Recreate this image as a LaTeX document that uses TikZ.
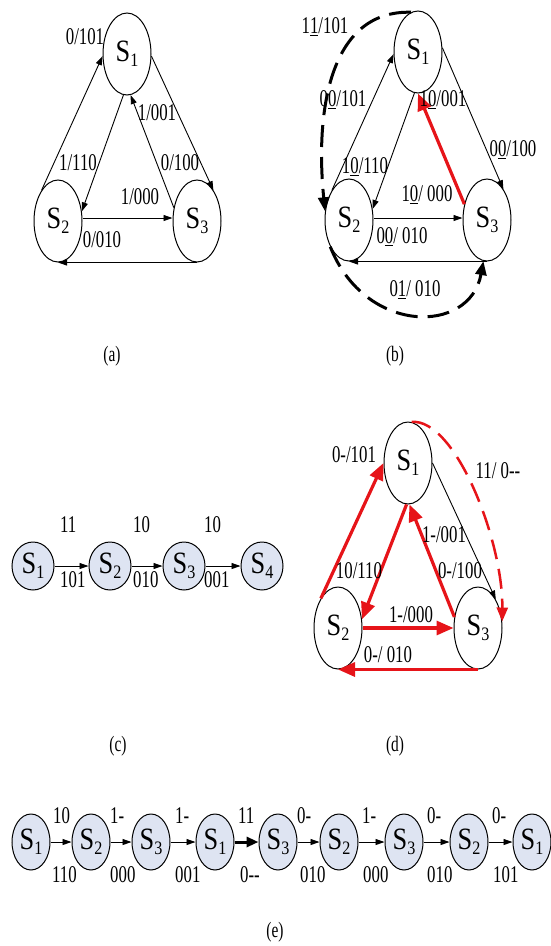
\documentclass[tikz,border=0pt]{standalone}
\usepackage{fontspec}
\setmainfont{Liberation Serif}[FakeStretch=0.7]
\newfontfamily\sfam{Liberation Serif}[FakeStretch=0.85]
\usetikzlibrary{shapes.geometric,arrows.meta}
\definecolor{myred}{RGB}{230,20,25}
\definecolor{cfill}{RGB}{222,228,242}
\newcommand{\Sx}[1]{{\sfam\fontsize{31}{31}\selectfont S\raisebox{-5pt}{\fontsize{19}{19}\selectfont #1}}}
\tikzset{
  st/.style={ellipse, draw, line width=1pt, inner sep=0pt, minimum width=48pt, minimum height=82pt},
  stc/.style={ellipse, draw, fill=cfill, line width=1pt, inner sep=0pt, minimum width=42pt, minimum height=48pt},
  ste/.style={ellipse, draw, fill=cfill, line width=1pt, inner sep=0pt, minimum width=38pt, minimum height=56pt},
  lbl/.style={font=\fontsize{24}{24}\selectfont, inner sep=0pt},
  capt/.style={font=\fontsize{22}{22}\selectfont, inner sep=0pt},
  arr/.style={-{Triangle[length=9pt,width=6pt]}, line width=0.9pt},
  tarr/.style={-{Triangle[length=12pt,width=10pt]}, line width=3pt},
  rarr/.style={myred, line width=3.2pt, -{Triangle[length=17pt,width=14pt]}},
  darr/.style={dash pattern=on 22pt off 10pt, line width=3pt, -{Triangle[length=14pt,width=11pt]}},
  rdarr/.style={myred, dash pattern=on 20pt off 10pt, line width=2.5pt, -{Triangle[length=14pt,width=11pt]}}
}
\begin{document}
\begin{tikzpicture}[x=1pt,y=-1pt]
\useasboundingbox (0,0) rectangle (550,946);

% ---------------- (a)
\node[st] (a1) at (127,54) {\Sx{1}};
\node[st] (a2) at (58,221) {\Sx{2}};
\node[st] (a3) at (197,221) {\Sx{3}};
\draw[arr] (a2.118) -- (a1.185);
\draw[arr] (a1.265) -- (a2.22);
\draw[arr] (a3.150) -- (a1.275);
\draw[arr] (a1.355) -- (a3.62);
\draw[arr] ([yshift=3pt]a2.east) -- ([yshift=3pt]a3.west);
\draw[arr] (a3.south) -- (a2.south);
\node[lbl] (la1) at (85,37) {0/101};
\node[lbl] (la2) at (157,113) {1/001};
\node[lbl] (la3) at (78,163) {1/110};
\node[lbl] (la4) at (180,163) {0/100};
\node[lbl] (la5) at (140,197) {1/000};
\node[lbl] (la6) at (102,240) {0/010};
\node[capt] (capa) at (112,356) {(a)};

% ---------------- (b)
\node[st] (b1) at (418,52) {\Sx{1}};
\node[st] (b2) at (349,220) {\Sx{2}};
\node[st] (b3) at (487,220) {\Sx{3}};
\draw[arr] (b2.120) -- (b1.185);
\draw[arr] (b1.265) -- (b2.25);
\draw[rarr] (b3.145) -- (b1.270);
\draw[arr] (b1.10) -- (b3.62);
\draw[arr] ([yshift=2pt]b2.east) -- ([yshift=2pt]b3.west);
\draw[arr] (b3.south) -- (b2.south);
\draw[darr] (b1.100) .. controls (330,10) and (315,110) .. (b2.160);
\draw[darr] (b2.235) .. controls (365,335) and (470,335) .. (b3.265);
\node[lbl] (lb1) at (325,27) {1\underline{1}/101};
\node[lbl] (lb2) at (343,100) {0\underline{0}/101};
\node[lbl] (lb3) at (443,100) {1\underline{0}/001};
\node[lbl] (lb4) at (365,167) {1\underline{0}/110};
\node[lbl] (lb5) at (513,150) {0\underline{0}/100};
\node[lbl] (lb6) at (427,195) {1\underline{0}/ 000};
\node[lbl] (lb7) at (402,237) {0\underline{0}/ 010};
\node[lbl] (lb8) at (415,290) {0\underline{1}/ 010};
\node[capt] (capb) at (395,356) {(b)};

% ---------------- (c)
\node[stc] (c1) at (33,566) {\Sx{1}};
\node[stc] (c2) at (110,566) {\Sx{2}};
\node[stc] (c3) at (184,566) {\Sx{3}};
\node[stc] (c4) at (262,566) {\Sx{4}};
\draw[arr] (c1) -- (c2);
\draw[arr] (c2) -- (c3);
\draw[arr] (c3) -- (c4);
\node[lbl,anchor=west] (lc1) at (60,525) {11};
\node[lbl,anchor=west] (lc2) at (60,580) {101};
\node[lbl,anchor=west] (lc3) at (133,525) {10};
\node[lbl,anchor=west] (lc4) at (133,580) {010};
\node[lbl,anchor=west] (lc5) at (204,525) {10};
\node[lbl,anchor=west] (lc6) at (204,580) {001};
\node[capt] (capc) at (118,746) {(c)};

% ---------------- (d)
\node[st] (d1) at (408,463) {\Sx{1}};
\node[st] (d2) at (338,628) {\Sx{2}};
\node[st] (d3) at (478,628) {\Sx{3}};
\draw[rarr] (d2.120) -- (d1.180);
\draw[rarr] (d1.268) -- (d2.20);
\draw[rarr] (d3.155) -- (d1.272);
\draw[arr] (d1.0) -- (d3.58);
\draw[rarr] (d2.east) -- (d3.west);
\draw[rarr] (d3.south) -- (d2.south);
\draw[rdarr] (d1.85) .. controls (455,418) and (503,540) .. (d3.15);
\node[lbl] (ld1) at (354,455) {0-/101};
\node[lbl] (ld2) at (498,471) {11/ 0-{}-};
\node[lbl] (ld3) at (444,535) {1-/001};
\node[lbl] (ld4) at (359,571) {10/110};
\node[lbl] (ld5) at (460,571) {0-/100};
\node[lbl] (ld6) at (411,615) {1-/000};
\node[lbl] (ld7) at (388,655) {0-/ 010};
\node[capt] (capd) at (395,746) {(d)};

% ---------------- (e)
\node[ste] (e1) at (31,842) {\Sx{1}};
\node[ste] (e2) at (91,842) {\Sx{2}};
\node[ste] (e3) at (151,842) {\Sx{3}};
\node[ste] (e4) at (215,842) {\Sx{1}};
\node[ste] (e5) at (278,842) {\Sx{3}};
\node[ste] (e6) at (339,842) {\Sx{2}};
\node[ste] (e7) at (404,842) {\Sx{3}};
\node[ste] (e8) at (469,842) {\Sx{2}};
\node[ste] (e9) at (532,842) {\Sx{1}};
\draw[arr] (e1) -- (e2);
\draw[arr] (e2) -- (e3);
\draw[arr] (e3) -- (e4);
\draw[tarr] (e4) -- (e5);
\draw[arr] (e5) -- (e6);
\draw[arr] (e6) -- (e7);
\draw[arr] (e7) -- (e8);
\draw[arr] (e8) -- (e9);
\node[lbl,anchor=west] (le1) at (53,816) {10};
\node[lbl,anchor=west] (le2) at (110,816) {1-};
\node[lbl,anchor=west] (le3) at (175,816) {1-};
\node[lbl,anchor=west] (le4) at (238,816) {11};
\node[lbl,anchor=west] (le5) at (297,816) {0-};
\node[lbl,anchor=west] (le6) at (362,816) {1-};
\node[lbl,anchor=west] (le7) at (427,816) {0-};
\node[lbl,anchor=west] (le8) at (492,816) {0-};
\node[lbl,anchor=west] (lf1) at (52,875) {110};
\node[lbl,anchor=west] (lf2) at (110,875) {000};
\node[lbl,anchor=west] (lf3) at (175,875) {001};
\node[lbl,anchor=west] (lf4) at (240,875) {0-{}-};
\node[lbl,anchor=west] (lf5) at (300,875) {010};
\node[lbl,anchor=west] (lf6) at (363,875) {000};
\node[lbl,anchor=west] (lf7) at (427,875) {010};
\node[lbl,anchor=west] (lf8) at (493,875) {101};
\node[capt] (cape) at (275,932) {(e)};
\end{tikzpicture}
\end{document}
